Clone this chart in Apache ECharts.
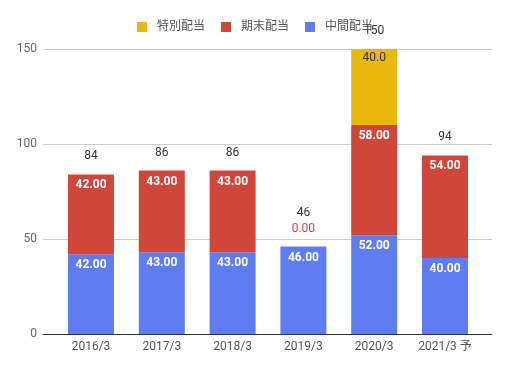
<!DOCTYPE html>
<html><head><meta charset="utf-8">
<script src="https://cdn.jsdelivr.net/npm/echarts@6/dist/echarts.min.js"></script>
<style>html,body{margin:0;padding:0;background:#fff}#c{width:510px;height:370px}</style>
</head><body><div id="c"></div>
<script>
var categories = ['2016/3','2017/3','2018/3','2019/3','2020/3','2021/3 予'];
var interim = [42, 43, 43, 46, 52, 40];
var yearEnd = [42, 43, 43, 0, 58, 54];
var special = [null, null, null, null, 40, null];
var totals = [84, 86, 86, 46, 150, 94];
var yMin = 0, yMax = 150, yStep = 50;
var names = ['特別配当','期末配当','中間配当'];

var FONT = "Roboto, 'Noto Sans CJK JP', sans-serif";
var cRed = '#D0463A', cBlue = '#5F7DF0', cYellow = '#E8B80F';

var chart = echarts.init(document.getElementById('c'), null, {renderer:'canvas'});
var segLabel = {show:true, position:'insideTop', distance:5, color:'#fff', fontWeight:'bold', fontSize:12, fontFamily:FONT,
  formatter:function(p){return Number(p.value).toFixed(2);}};

var yearEndData = yearEnd.map(function(v){
  if (v === 0) return {value:v, label:{position:'top', distance:12, color:cRed, fontWeight:'normal'}};
  return v;
});
var totalData = totals.map(function(v,i){
  if (yearEnd[i] === 0) return {value:v, label:{distance:28}};
  return v;
});

chart.setOption({
  animation:false,
  textStyle:{fontFamily:FONT},
  legend:{top:16, left:'center', data:names, icon:'rect', itemWidth:10, itemHeight:10, itemGap:16,
    textStyle:{color:'#555', fontSize:12, fontFamily:FONT, padding:[0,0,0,5]}},
  grid:[
    {left:43, right:18, top:49, bottom:36},
    {left:55.6, right:29.6, top:49, bottom:36}
  ],
  xAxis:[
    {gridIndex:0, type:'category', data:categories, axisLabel:{show:false}, axisTick:{show:false},
     axisLine:{show:true, lineStyle:{color:'#333', width:1}}},
    {gridIndex:1, type:'category', data:categories, axisLine:{show:false}, axisTick:{show:false},
     axisLabel:{color:'#555', fontSize:12, margin:7, fontFamily:FONT}}
  ],
  yAxis:[
    {gridIndex:0, type:'value', min:yMin, max:yMax, interval:yStep, axisLine:{show:false}, axisTick:{show:false},
     axisLabel:{color:'#666', fontSize:12, margin:6, fontFamily:FONT}, splitLine:{lineStyle:{color:'#ccc'}}},
    {gridIndex:1, type:'value', min:yMin, max:yMax, interval:yStep, show:false, splitLine:{show:false}}
  ],
  series:[
    {name:names[2], type:'bar', xAxisIndex:1, yAxisIndex:1, stack:'s', data:interim, barWidth:46, barGap:'-100%',
     itemStyle:{color:cBlue}, label:segLabel},
    {name:names[1], type:'bar', xAxisIndex:1, yAxisIndex:1, stack:'s', data:yearEndData, barWidth:46, barGap:'-100%',
     itemStyle:{color:cRed}, label:segLabel},
    {name:names[0], type:'bar', xAxisIndex:1, yAxisIndex:1, stack:'s', data:special, barWidth:46, barGap:'-100%',
     itemStyle:{color:cYellow},
     label:{show:true, position:'insideTop', distance:3, color:'#333', fontSize:12, fontFamily:FONT,
       formatter:function(p){return Number(p.value).toFixed(1);}}},
    {name:'合計', type:'bar', xAxisIndex:1, yAxisIndex:1, data:totalData, barWidth:46, barGap:'-100%', silent:true,
     itemStyle:{color:'rgba(0,0,0,0)'}, z:1,
     label:{show:true, position:'top', distance:12, color:'#333', fontSize:12, fontFamily:FONT}}
  ]
});
</script></body></html>
